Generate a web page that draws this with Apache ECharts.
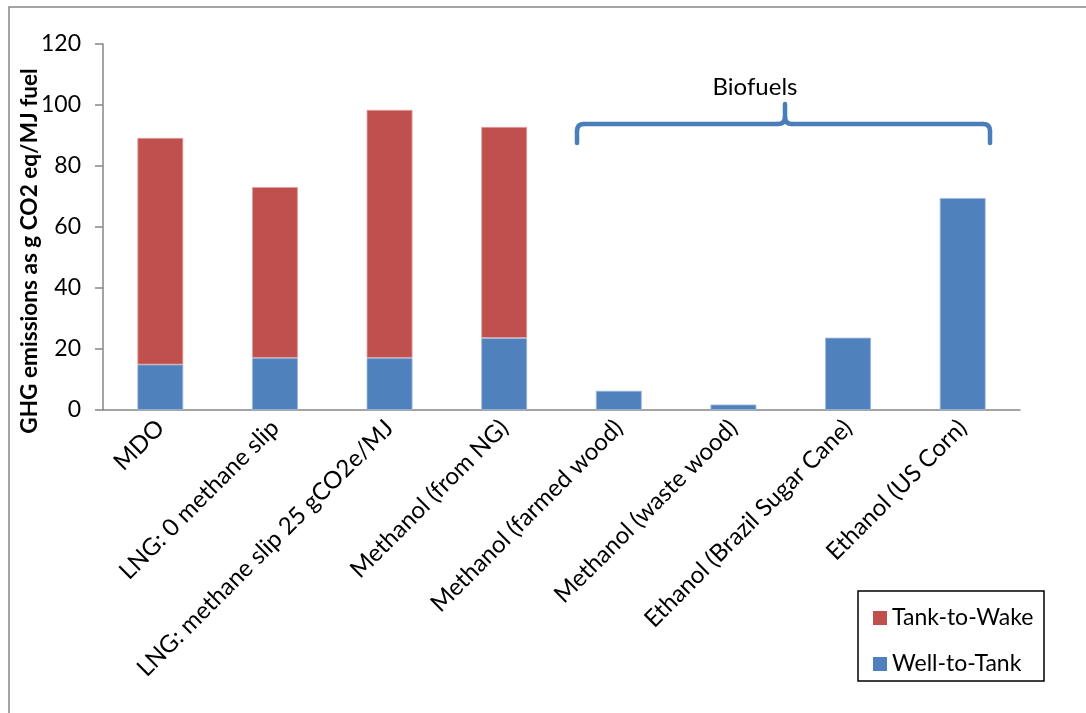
<!DOCTYPE html>
<html>
<head>
<meta charset="utf-8">
<script src="https://cdn.jsdelivr.net/npm/echarts@6/dist/echarts.min.js"></script>
<style>
html,body{margin:0;padding:0;background:#fff;}
#chart{width:1086px;height:713px;}
</style>
</head>
<body>
<div id="chart"></div>
<script>
const categories = [
  'MDO',
  'LNG: 0 methane slip',
  'LNG: methane slip 25 gCO2e/MJ',
  'Methanol (from NG)',
  'Methanol (farmed wood)',
  'Methanol (waste wood)',
  'Ethanol (Brazil Sugar Cane)',
  'Ethanol (US Corn)'
];
const wellToTank = [14.9, 17.1, 17.1, 23.6, 6.3, 1.8, 23.7, 69.5];
const tankToWake = [74.3, 56.0, 81.3, 69.2, 0, 0, 0, 0];
const yTicks = { min: 0, max: 120, interval: 20 };
const seriesNames = ['Tank-to-Wake', 'Well-to-Tank'];
const annotationText = 'Biofuels';
const yTitle = 'GHG emissions as g CO2 eq/MJ fuel';

const FONT = 'Lato';
const braceStyle = { stroke: '#4A7EBB', lineWidth: 4.5, lineCap: 'round', fill: 'none' };
function seg(x1, y1, x2, y2) { return { type: 'line', shape: { x1, y1, x2, y2 }, style: braceStyle, silent: true }; }
function crv(x1, y1, cx, cy, x2, y2) { return { type: 'bezierCurve', shape: { x1, y1, x2, y2, cpx1: cx, cpy1: cy }, style: braceStyle, silent: true }; }

const chart = echarts.init(document.getElementById('chart'));
chart.setOption({
  animation: false,
  textStyle: { fontFamily: FONT },
  grid: { left: 103, right: 66, top: 44, bottom: 303, containLabel: false },
  legend: {
    orient: 'vertical',
    left: 868, top: 601,
    itemWidth: 14, itemHeight: 14, itemGap: 22,
    icon: 'rect',
    data: seriesNames,
    itemStyle: { borderWidth: 0 },
    textStyle: { fontFamily: FONT, fontSize: 23, lineHeight: 24, color: '#000' }
  },
  xAxis: {
    type: 'category',
    data: categories,
    axisLine: { lineStyle: { color: '#868686', width: 1.5 } },
    axisTick: { length: 8, lineStyle: { color: '#868686', width: 1.5 } },
    axisLabel: { rotate: 45, interval: 0, margin: 14, fontSize: 24, color: '#000', fontFamily: FONT }
  },
  yAxis: {
    type: 'value',
    min: yTicks.min, max: yTicks.max, interval: yTicks.interval,
    axisLine: { show: true, lineStyle: { color: '#868686', width: 1.5 } },
    axisTick: { show: true, length: 8, lineStyle: { color: '#868686', width: 1.5 } },
    splitLine: { show: false },
    axisLabel: { margin: 22, fontSize: 23, color: '#000', fontFamily: FONT }
  },
  series: [
    {
      name: 'Well-to-Tank', type: 'bar', stack: 'total', barWidth: '40%',
      data: wellToTank,
      itemStyle: { color: '#4F81BD', borderColor: '#9fb9dc', borderWidth: 0.8 }
    },
    {
      name: 'Tank-to-Wake', type: 'bar', stack: 'total', barWidth: '40%',
      data: tankToWake.map(v => v === 0 ? null : v),
      itemStyle: { color: '#C0504D', borderColor: '#e0a3a1', borderWidth: 0.8 }
    }
  ],
  graphic: [
    { type: 'rect', shape: { x: 9, y: 7, width: 1090, height: 720 }, style: { fill: 'none', stroke: '#868686', lineWidth: 1.5 }, silent: true },
    { type: 'rect', shape: { x: 858, y: 591, width: 186, height: 90 }, style: { fill: 'none', stroke: '#000', lineWidth: 1.5 }, silent: true },
    seg(577, 143, 577, 131),
    crv(577, 131, 577, 124, 584, 124),
    seg(584, 124, 778, 124),
    crv(778, 124, 785, 124, 785, 117),
    seg(785, 117, 785, 104),
    crv(785, 117, 785, 124, 792, 124),
    seg(792, 124, 983, 124),
    crv(983, 124, 990, 124, 990, 131),
    seg(990, 131, 990, 143),
    { type: 'text', x: 755, y: 87, style: { text: annotationText, font: '24px ' + FONT, fill: '#000', align: 'center', verticalAlign: 'middle' }, silent: true },
    { type: 'text', x: 30, y: 251, rotation: Math.PI / 2, style: { text: yTitle, font: 'bold 22.6px ' + FONT, fill: '#000', align: 'center', verticalAlign: 'middle' }, silent: true }
  ]
});
</script>
</body>
</html>
